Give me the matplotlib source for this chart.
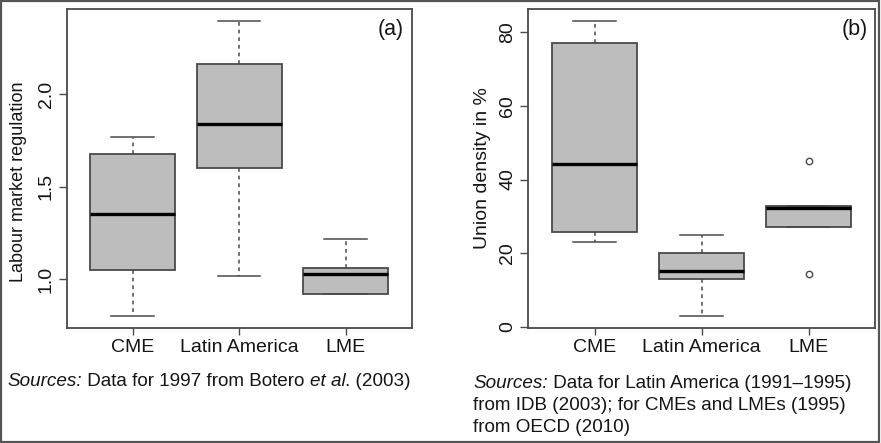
import matplotlib
matplotlib.use("Agg")
import matplotlib.pyplot as plt
from matplotlib.patches import Rectangle

plt.rcParams['font.family'] = ['Liberation Sans', 'DejaVu Sans']

categories = ["CME", "Latin America", "LME"]

# Panel (a): labour market regulation
a_whislo = [0.800, 1.018, 0.919]
a_q1 = [1.051, 1.603, 0.919]
a_med = [1.355, 1.838, 1.029]
a_q3 = [1.677, 2.162, 1.059]
a_whishi = [1.768, 2.398, 1.218]
a_fliers = [[], [], []]
a_ticks = [1.0, 1.5, 2.0]
a_ticklabels = ["1.0", "1.5", "2.0"]

# Panel (b): union density in %
b_whislo = [22.9, 2.9, 27.2]
b_q1 = [25.8, 13.0, 27.2]
b_med = [44.1, 15.1, 32.3]
b_q3 = [77.2, 20.0, 32.7]
b_whishi = [83.2, 24.9, 32.7]
b_fliers = [[], [], [45.1, 14.3]]
b_ticks = [0, 20, 40, 60, 80]
b_ticklabels = ["0", "20", "40", "60", "80"]

W, H = 881, 443
fig = plt.figure(figsize=(W / 100, H / 100), dpi=100)
fig.patch.set_facecolor('white')

EDGE = '#4a4a4a'
FILL = '#bdbdbd'
TXT = '#151515'


def px_axes(x0, y0, x1, y1):
    return fig.add_axes([x0 / W, 1 - y1 / H, (x1 - x0) / W, (y1 - y0) / H])


def draw_panel(ax, wlo, q1, med, q3, whi, fliers, ticks, ticklabels, ylim):
    stats = []
    for i, name in enumerate(categories):
        stats.append(dict(label=name, whislo=wlo[i], q1=q1[i], med=med[i],
                          q3=q3[i], whishi=whi[i], fliers=fliers[i]))
    ax.bxp(stats, positions=[1, 2, 3], widths=0.8, capwidths=0.4,
           patch_artist=True, showfliers=True,
           boxprops=dict(facecolor=FILL, edgecolor=EDGE, linewidth=1.3),
           medianprops=dict(color='black', linewidth=2.4, solid_capstyle='butt'),
           whiskerprops=dict(color=EDGE, linewidth=1.1, linestyle=(0, (2.5, 2.5))),
           capprops=dict(color=EDGE, linewidth=1.1),
           flierprops=dict(marker='o', markersize=4.6, markerfacecolor='none',
                           markeredgecolor=EDGE, markeredgewidth=1.0))
    ax.set_xlim(0.38, 3.62)
    ax.set_ylim(*ylim)
    ax.set_yticks(ticks)
    ax.set_yticklabels(ticklabels, rotation=90, va='center', fontsize=14)
    ax.set_xticks([1, 2, 3])
    ax.set_xticklabels(categories, fontsize=14)
    ax.tick_params(axis='y', length=6, width=1, color=EDGE, pad=2.5,
                   labelcolor=TXT)
    ax.tick_params(axis='x', length=5, width=1, color=EDGE, pad=3,
                   labelcolor=TXT)
    for s in ax.spines.values():
        s.set_color(EDGE)
        s.set_linewidth(1.3)


axa = px_axes(66.7, 9.3, 411.7, 328.3)
draw_panel(axa, a_whislo, a_q1, a_med, a_q3, a_whishi, a_fliers,
           a_ticks, a_ticklabels, (0.735, 2.459))
axb = px_axes(528.3, 9.3, 875.0, 327.7)
draw_panel(axb, b_whislo, b_q1, b_med, b_q3, b_whishi, b_fliers,
           b_ticks, b_ticklabels, (-0.27, 86.25))

# axis labels
fig.text(18.5 / W, 1 - 182 / H, "Labour market regulation", rotation=90,
         ha='center', va='center', fontsize=13, color=TXT)
fig.text(482 / W, 1 - 168.5 / H, "Union density in %", rotation=90,
         ha='center', va='center', fontsize=14, color=TXT)

# panel tags
fig.text(391 / W, 1 - 30 / H, "(a)", ha='center', va='center', fontsize=15.5,
         color=TXT)
fig.text(855 / W, 1 - 30 / H, "(b)", ha='center', va='center', fontsize=15.5,
         color=TXT)

renderer = fig.canvas.get_renderer()


def rich_line(x_px, y_px, parts, size=13.6):
    x = x_px
    for txt, style in parts:
        t = fig.text(x / W, 1 - y_px / H, txt, style=style, fontsize=size,
                     ha='left', va='center', color=TXT)
        bb = t.get_window_extent(renderer)
        x = bb.x1


rich_line(7.3, 381, [("Sources:", 'italic'), (" Data for 1997 from Botero ", 'normal'),
                     ("et al", 'italic'), (". (2003)", 'normal')])
rich_line(473.3, 383, [("Sources:", 'italic'),
                       (" Data for Latin America (1991\u20131995)", 'normal')])
rich_line(473.3, 405.5, [("from IDB (2003); for CMEs and LMEs (1995)", 'normal')])
rich_line(473.3, 428, [("from OECD (2010)", 'normal')])

# outer frame
fig.add_artist(Rectangle((1 / W, 1.5 / H), 877.5 / W, 440.5 / H,
                         transform=fig.transFigure, fill=False,
                         edgecolor='#555555', linewidth=1.6))

fig.savefig("out.png", dpi=100, facecolor='white')
